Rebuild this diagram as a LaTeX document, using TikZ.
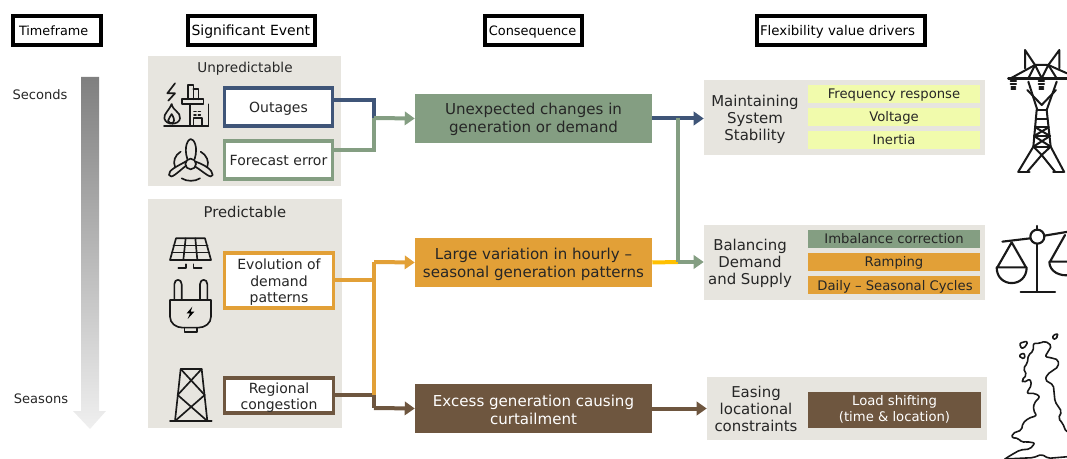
\documentclass[tikz,border=0pt]{standalone}
\usepackage{fontspec}
\setmainfont{DejaVu Sans}
\usetikzlibrary{arrows.meta,calc}
\definecolor{navyb}{HTML}{3F5578}
\definecolor{sage}{HTML}{849E82}
\definecolor{amber}{HTML}{E2A037}
\definecolor{umber}{HTML}{6E563F}
\definecolor{stone}{HTML}{E7E5DF}
\definecolor{lemon}{HTML}{F1FBAC}
\definecolor{ink}{HTML}{262626}
\definecolor{goldl}{HTML}{FFC000}
\tikzset{
  vfix/.style={execute at begin node={\rule{0pt}{.96em}},execute at end node={\rule[-.24em]{0pt}{0pt}}},
  sz/.style 2 args={minimum width=#1*0.75pt,minimum height=#2*0.75pt,inner sep=0pt},
  hdr/.style={draw=black,line width=2.3pt,fill=white,text=black,align=left,vfix},
  panel/.style={fill=stone,draw=none},
  evbox/.style={fill=white,line width=2.3pt,text=ink,align=center,font=\fontsize{10.5}{12.4}\selectfont},
  evtxt/.style={inner sep=0pt,text=ink,align=center,yshift=-1.5pt,font=\fontsize{10.5}{12.4}\selectfont},
  consq/.style={},
  cqtxt/.style={inner sep=0pt,align=center,font=\fontsize{11.3}{13.6}\selectfont},
  item/.style={align=center,text=ink,vfix,font=\fontsize{9.9}{11.5}\selectfont},
  plain/.style={align=center,text=ink,inner sep=0pt,vfix,font=\fontsize{10.2}{12}\selectfont},
  drv/.style={align=center,text=ink,inner sep=0pt,font=\fontsize{11.2}{12.9}\selectfont},
  conn/.style={line width=3pt},
  tip/.style={-{Triangle[length=7.5pt,width=10pt]}},
  icon/.style={line width=1.25pt,draw=black!90,line join=round,line cap=round,fill=none},
  zoomA/.style={shift={(140,40)},x=0.25pt,y=-0.25pt},
  zoomB/.style={shift={(140,195)},x=0.25pt,y=-0.25pt},
}
\begin{document}
\begin{tikzpicture}[x=0.75pt,y=-0.75pt]
\useasboundingbox (0,0) rectangle (1067,459);
\clip (0,0) rectangle (1067,459);
% headers
\node[hdr,sz={88}{29},text width=57pt,font=\fontsize{9.6}{12}\selectfont] (h1) at (57,30.5) {Timeframe};
\node[hdr,sz={127}{29},text width=90pt,font=\fontsize{10.5}{12}\selectfont] (h2) at (251.5,30.5) {Significant Event};
\node[hdr,sz={97}{29},text width=67pt,font=\fontsize{9.7}{12}\selectfont] (h3) at (533.5,30.5) {Consequence};
\node[hdr,sz={168}{29},text width=121.5pt,font=\fontsize{10}{12}\selectfont] (h4) at (841,30.5) {Flexibility value drivers};
% timeline
\node[plain,font=\fontsize{9.8}{11}\selectfont] (t1) at (40,95) {Seconds};
\node[plain,font=\fontsize{9.8}{11}\selectfont] (t2) at (41,399) {Seasons};
\shade[top color=black!50,bottom color=black!6] (81,77) -- (99,77) -- (99,411) -- (106,411) -- (90,429) -- (73,411) -- (81,411) -- cycle;
% left panels
\node[panel,sz={193}{130}] (p1) at (244.5,121) {};
\node[panel,sz={194}{229}] (p2) at (245,313.5) {};
\node[plain] (p1t) at (245,68) {Unpredictable};
\node[plain,font=\fontsize{11.1}{13}\selectfont] (p2t) at (245,212) {Predictable};
% event boxes
\node[evbox,vfix,draw=navyb,sz={108}{38}] (outages) at (278.5,107) {Outages};
\node[evbox,vfix,draw=sage,sz={108}{38}] (forecast) at (278.5,160) {Forecast error};
\node[evbox,draw=amber,sz={109}{55},label={[evtxt]center:{Evolution of\\demand\\patterns}}] (evol) at (279,280.5) {};
\node[evbox,draw=umber,sz={109}{35},label={[evtxt]center:{Regional\\congestion}}] (regional) at (279,395.5) {};
% consequences
\node[fill=sage,sz={237}{49},label={[cqtxt,text=ink,yshift=-.75pt]center:{Unexpected changes in\\generation or demand}}] (c1) at (533.5,118.5) {};
\node[fill=amber,sz={237}{49},label={[cqtxt,text=ink,yshift=-1.5pt]center:{Large variation in hourly –\\seasonal generation patterns}}] (c2) at (533.5,262.5) {};
\node[fill=umber,sz={237}{49},label={[cqtxt,text=white,yshift=-.75pt]center:{Excess generation causing\\curtailment}}] (c3) at (533.5,408.5) {};
% right panels
\node[panel,sz={281}{75}] (d1) at (844.5,118) {};
\node[panel,sz={281}{75}] (d2) at (844.5,262.5) {};
\node[panel,sz={280}{63}] (d3) at (847,408.5) {};
\node[drv] (d1t) at (755,119.5) {Maintaining\\System\\Stability};
\node[drv] (d2t) at (750,263.5) {Balancing\\Demand\\and Supply};
\node[drv] (d3t) at (756,409) {Easing\\locational\\constraints};
\node[item,fill=lemon,sz={172}{18}] (i1) at (894,94) {Frequency response};
\node[item,fill=lemon,sz={172}{18}] (i2) at (894,117) {Voltage};
\node[item,fill=lemon,sz={172}{18}] (i3) at (894,140) {Inertia};
\node[item,fill=sage,sz={172}{18}] (i4) at (894,239) {Imbalance correction};
\node[item,fill=amber,sz={172}{18}] (i5) at (894,262) {Ramping};
\node[item,fill=amber,sz={172}{18}] (i6) at (894,285.5) {\hspace{1.5pt}Daily – Seasonal Cycles};
\node[item,fill=umber,text=white,sz={173}{36}] (i7) at (894.5,410) {Load shifting\\(time \& location)};
% connectors
\coordinate (ja) at (374,118);
\coordinate (jb) at (374,262);
\coordinate (jc) at (374,408);
\coordinate (jd) at (678,118);
\coordinate (je) at (678,262);
\draw[conn,draw=navyb] ([yshift=5.25pt]outages.east) -| (ja);
\draw[conn,draw=sage] ([yshift=7.5pt]forecast.east) -| (ja);
\draw[conn,draw=sage,tip] (ja) -- (c1.west);
\draw[conn,draw=amber] (evol.east) -- (evol.east -| jb);
\draw[conn,draw=umber] (regional.east) -| (jc);
\draw[conn,draw=umber,tip] (jc) -- (c3.west);
\draw[conn,draw=amber] (regional.east -| jb) -- (jb);
\draw[conn,draw=amber,tip] (jb) -- (c2.west);
\draw[conn,draw=navyb,tip] (c1.east) -- (c1.east -| d1.west);
\draw[conn,draw=goldl] (c2.east) -- (je);
\draw[conn,draw=sage] (jd) -- (je);
\draw[conn,draw=sage,tip] (je) -- (je -| d2.west);
\draw[conn,draw=umber,tip] (c3.east) -- (d3.west);
% factory icon
\begin{scope}[zoomA,icon]
\draw (105,130) -- (82,160) -- (105,160) -- (85,182);
\draw (143,178) -- (143,135) -- (160,135) -- (160,178);
\draw (160,148) -- (175,148) -- (175,178);
\draw (125,178) -- (190,178) -- (190,193) -- (125,193) -- cycle;
\draw (150,193) -- (150,258);
\draw (205,193) -- (205,258);
\draw (72,258) -- (205,258);
\draw (160,258) -- (160,235) -- (185,235) -- (185,258);
\draw (162,215) -- (168,215) (175,215) -- (181,215) (162,225) -- (168,225) (175,225) -- (181,225);
\draw (95,192) .. controls (100,215) and (122,215) .. (120,235) .. controls (118,255) and (78,258) .. (73,235) .. controls (72,220) and (85,215) .. (95,192);
\draw (95,222) .. controls (100,232) and (105,238) .. (100,248) .. controls (95,252) and (85,250) .. (84,242) .. controls (84,235) and (92,232) .. (95,222);
\end{scope}
% turbine icon
\begin{scope}[zoomA,icon]
\draw (152,372) circle[radius=16];
\draw (142,357) .. controls (130,320) and (145,297) .. (152,297) .. controls (162,297) and (175,320) .. (164,357);
\draw (137,378) .. controls (115,395) and (92,420) .. (87,405) .. controls (85,390) and (110,380) .. (140,363);
\draw (166,380) .. controls (190,395) and (215,420) .. (218,405) .. controls (218,390) and (195,375) .. (167,365);
\draw (122,335) .. controls (105,345) and (98,365) .. (105,380);
\draw (182,335) .. controls (200,345) and (208,365) .. (202,380);
\draw (125,415) .. controls (140,425) and (165,425) .. (180,415);
\end{scope}
% solar icon
\begin{scope}[zoomB,icon]
\draw (108,130) -- (195,130) -- (213,195) -- (90,195) -- cycle;
\draw (100,152) -- (203,152) (95,173) -- (208,173);
\draw (137,130) -- (130,195) (166,130) -- (172,195);
\draw (115,220) -- (138,220) -- (138,208);
\draw (185,220) -- (160,220) -- (160,208);
\end{scope}
% plug icon
\begin{scope}[zoomB,icon]
\draw (90,315) -- (213,315) -- (213,365) .. controls (213,385) and (195,398) .. (175,398) -- (128,398) .. controls (108,398) and (90,385) .. (90,365) -- cycle;
\draw (103,315) -- (103,268) .. controls (103,250) and (125,250) .. (125,268) -- (125,315);
\draw (180,315) -- (180,268) .. controls (180,250) and (202,250) .. (202,268) -- (202,315);
\draw (133,398) -- (133,412) -- (170,412) -- (170,398);
\fill (157,335) -- (140,355) -- (150,355) -- (143,372) -- (163,350) -- (152,350) -- cycle;
\end{scope}
% tower icon
\begin{scope}[zoomB,icon]
\draw (90,678) -- (215,678);
\draw (105,678) -- (122,522) -- (185,522) -- (202,678);
\draw (122,522) -- (194,600) -- (105,678);
\draw (185,522) -- (113,600) -- (202,678);
\end{scope}
% pylon icon
\begin{scope}[shift={(990,40)},x=0.25pt,y=-0.25pt,icon,line width=1.5pt]
\draw (105,85) -- (105,30) -- (135,75) -- (175,75) -- (208,30) -- (208,85);
\draw[line width=1.9pt] (55,115) -- (231,115);
\draw (62,115) -- (135,75) (231,100) -- (175,75);
\draw (115,115) -- (135,75) -- (155,115) -- (175,75) -- (200,115);
\draw (115,125) -- (142,210) (200,125) -- (170,210);
\draw (112,150) -- (155,195) -- (198,150);
\draw (140,210) -- (170,210);
\draw (140,210) -- (130,320) -- (85,395);
\draw (170,210) -- (182,320) -- (222,395);
\draw (138,238) -- (172,238) (136,262) -- (176,262) (132,288) -- (180,288) (130,320) -- (182,320);
\draw (136,262) -- (180,288) -- (130,320);
\draw (176,262) -- (132,288) -- (182,320);
\draw (130,320) -- (155,345) -- (182,320);
\draw (155,345) -- (112,395) (155,345) -- (195,395);
\draw[line width=2pt] (85,396) -- (118,396) (190,396) -- (222,396);
\draw[line width=1.6pt] (62,124) -- (78,124) (62,132) -- (78,132) (64,140) -- (76,140) (64,146) -- (76,146);
\draw[line width=1.6pt] (146,124) -- (162,124) (146,132) -- (162,132) (148,140) -- (160,140) (148,146) -- (160,146);
\end{scope}
% scales icon
\begin{scope}[shift={(990,215)},x=0.25pt,y=-0.25pt,icon,line width=1.6pt]
\draw (142,65) circle[radius=21];
\draw (142,44) -- (142,33);
\draw (37,80) -- (121,70) (163,62) -- (235,50);
\draw (142,86) -- (142,230) (92,230) -- (195,230);
\draw (65,82) -- (22,157) -- (108,157) -- cycle;
\draw (20,157) .. controls (20,220) and (110,220) .. (110,157);
\draw (225,60) -- (180,140) -- (240,140);
\draw (178,140) .. controls (178,170) and (210,185) .. (240,180);
\end{scope}
% UK map
\begin{scope}[shift={(990,215)},x=0.25pt,y=-0.25pt,icon,line width=1.2pt,rounded corners=1.5pt]
\draw (45,732) -- (60,722) -- (90,705) -- (120,702) -- (135,684) -- (110,680) -- (95,682) -- (85,670) -- (65,668) -- (68,655) -- (95,645) -- (98,625) -- (115,610) -- (140,602) -- (130,585) -- (132,565) -- (150,545) -- (135,535) -- (110,535) -- (118,520) -- (125,510) -- (120,492) -- (100,503) -- (95,495) -- (110,480) -- (100,460) -- (112,445) -- (115,420) -- (130,408) -- (130,385) -- (150,385) -- (165,378) -- (185,392) -- (165,425) -- (190,430) -- (205,435) -- (205,455) -- (172,478) -- (165,495) -- (190,510) -- (195,560) -- (215,590) -- (205,610) -- (218,625) -- (228,650) -- (235,652);
\draw (45,732) -- (130,728) -- (155,718) -- (175,730) -- (235,725);
\draw (88,385) -- (112,378) -- (110,392) -- (95,402) -- cycle;
\draw (87,420) -- (103,414) -- (105,430) -- (92,430) -- cycle;
\draw (186,365) -- (200,355) -- (205,362) -- (193,375) -- cycle;
\end{scope}
\end{tikzpicture}
\end{document}
